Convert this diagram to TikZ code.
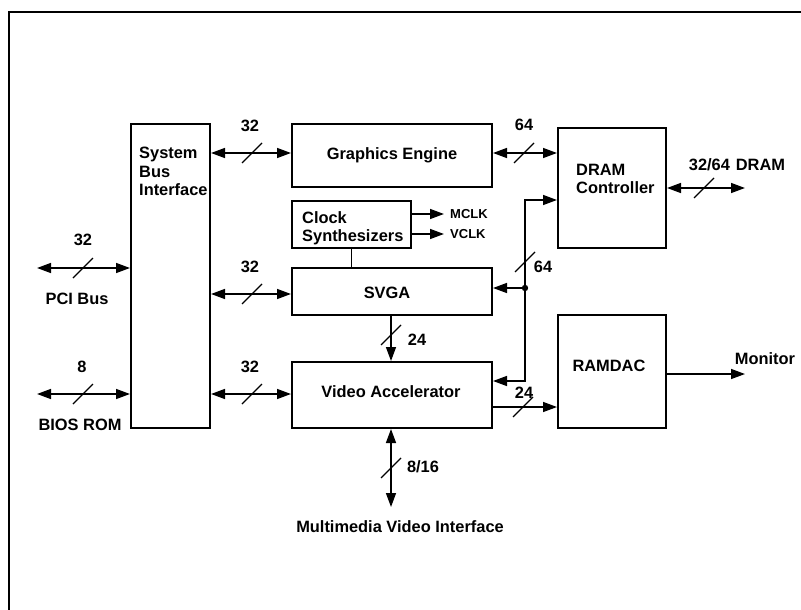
\documentclass[tikz,border=0pt]{standalone}
\usepackage{fontspec}
\setmainfont{Liberation Sans}
\usetikzlibrary{arrows.meta,calc}
\tikzset{
  box/.style={draw, line width=2pt, inner sep=0pt},
  tip/.tip={Triangle[length=14pt,width=10pt]},
  oneway/.style={line width=1.5pt, -tip},
  twoway/.style={line width=1.5pt, tip-tip},
  plain/.style={line width=1.5pt},
  lbl/.style={font=\fontsize{16.4}{18.5}\selectfont\bfseries, inner sep=0pt},
  sm/.style={font=\fontsize{13}{15}\selectfont\bfseries, inner sep=0pt},
}
\newcommand\busmark[1]{\draw[line width=1.3pt] ($(#1)+(-10,10)$) -- ($(#1)+(10,-10)$);}
\begin{document}
\begin{tikzpicture}[x=1pt,y=-1pt]
\useasboundingbox (0,0) rectangle (801,610);
\draw[line width=2.2pt] (9,610) -- (9,12) -- (801,12);

% boxes
\node[box, minimum width=79pt, minimum height=304pt] (sbi) at (170.5,276) {};
\node[box, minimum width=200pt, minimum height=63pt, lbl] (ge) at (392,155.5) {Graphics Engine};
\node[box, minimum width=119pt, minimum height=47pt] (clk) at (351.5,224.5) {};
\node[box, minimum width=200pt, minimum height=47pt] (svga) at (392,291.5) {};
\node[box, minimum width=200pt, minimum height=66pt] (va) at (392,395) {};
\node[box, minimum width=108pt, minimum height=120pt] (dram) at (612,188) {};
\node[box, minimum width=108pt, minimum height=113pt] (ramdac) at (612,371.5) {};

% box texts
\node[lbl, anchor=north west, align=left] (sbit) at (139,147) {System\\Bus\\Interface};
\node[lbl, anchor=north west, align=left] (clkt) at (302,211) {Clock\\Synthesizers};
\node[lbl] (svgat) at (387,293) {SVGA};
\node[lbl] (vat) at (391,392) {Video Accelerator};
\node[lbl, anchor=north west, align=left] (dramt) at (576,164) {DRAM\\Controller};
\node[lbl] (ramdact) at (609,366) {RAMDAC};

% external end points
\coordinate (pci) at (37,268);
\coordinate (bios) at (37,394);
\coordinate (dramx) at (745,188);
\coordinate (mon) at (745,374);
\coordinate (mvi) at (391,507);
\coordinate (bj) at (525,288);
\coordinate (bbot) at (525,381);
\coordinate (btop) at (525,200);

% labels
\node[lbl] (l32a) at (250,126) {32};
\node[lbl] (l32b) at (250,267) {32};
\node[lbl] (l32c) at (250,367) {32};
\node[lbl] (l32p) at (83,240) {32};
\node[lbl] (pcit) at (77,299) {PCI Bus};
\node[lbl] (l8) at (82,367) {8};
\node[lbl] (biost) at (80,425) {BIOS ROM};
\node[lbl] (l64a) at (524,125) {64};
\node[lbl] (dramxt) at (737,165) {32/64\hspace{6pt}DRAM};
\node[lbl] (l64b) at (543,267) {64};
\node[lbl] (l24a) at (417,340) {24};
\node[lbl] (l24b) at (524,393) {24};
\node[lbl] (l816) at (423,467) {8/16};
\node[lbl] (mont) at (765,359) {Monitor};
\node[lbl] (mvit) at (400,527) {Multimedia Video Interface};
\node[sm, anchor=west] (mclk) at (450,214) {MCLK};
\node[sm, anchor=west] (vclk) at (450,234) {VCLK};

% connectors
\draw[twoway] (sbi.east |- 0,153) -- (ge.west |- 0,153);
\draw[twoway] (sbi.east |- 0,294) -- (svga.west |- 0,294);
\draw[twoway] (sbi.east |- 0,394) -- (va.west |- 0,394);
\draw[twoway] (pci) -- (pci -| sbi.west);
\draw[twoway] (bios) -- (bios -| sbi.west);
\draw[twoway] (ge.east |- 0,153) -- (dram.west |- 0,153);
\draw[twoway] (dram.east) -- (dramx);
\draw[oneway] (clk.east |- mclk) -- ([xshift=-6pt]mclk.west);
\draw[oneway] (clk.east |- vclk) -- ([xshift=-6pt]vclk.west);
\draw[plain] (clk.south) -- (clk.south |- svga.north);
\draw[twoway] (bbot -| va.east) -- (bbot) -- (btop) -- (btop -| dram.west);
\draw[oneway] (bj) -- (bj -| svga.east);
\fill (bj) circle[radius=3.2pt];
\draw[oneway] (svga.south -| 391,0) -- (va.north -| 391,0);
\draw[oneway] (va.east |- 0,407) -- (ramdac.west |- 0,407);
\draw[oneway] (ramdac.east |- mon) -- (mon);
\draw[twoway] (va.south -| mvi) -- (mvi);

% bus width marks
\coordinate (m1) at (252,153); \busmark{m1}
\coordinate (m2) at (252,294); \busmark{m2}
\coordinate (m3) at (252,394); \busmark{m3}
\coordinate (m4) at (83,268); \busmark{m4}
\coordinate (m5) at (83,394); \busmark{m5}
\coordinate (m6) at (524,153); \busmark{m6}
\coordinate (m7) at (704,188); \busmark{m7}
\coordinate (m8) at (525,262); \busmark{m8}
\coordinate (m9) at (391,335); \busmark{m9}
\coordinate (m10) at (523,407); \busmark{m10}
\coordinate (m11) at (391,468); \busmark{m11}
\end{tikzpicture}
\end{document}
